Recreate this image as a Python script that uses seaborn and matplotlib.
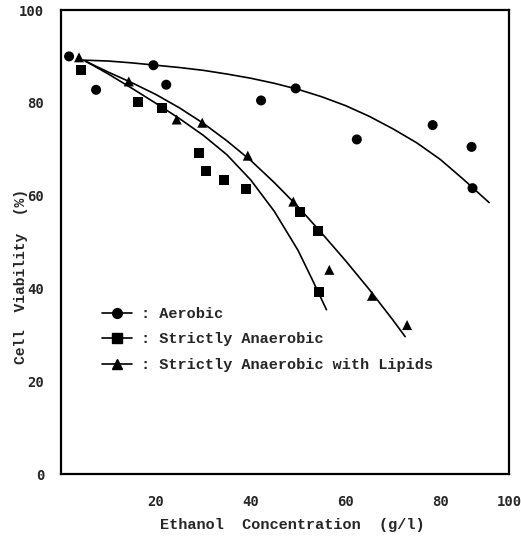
import numpy as np
import pandas as pd
import matplotlib
matplotlib.use("Agg")
import matplotlib.pyplot as plt
from matplotlib.lines import Line2D
import seaborn as sns

aerobic_x = [1.7, 7.4, 19.5, 22.2, 42.2, 49.5, 62.4, 78.4, 86.6, 86.8]
aerobic_y = [90.0, 82.8, 88.1, 83.9, 80.5, 83.1, 72.1, 75.2, 70.5, 61.6]
anaerobic_x = [4.2, 16.2, 21.4, 29.2, 30.6, 34.3, 39.0, 50.4, 54.3, 54.5]
anaerobic_y = [87.0, 80.1, 78.9, 69.2, 65.4, 63.4, 61.5, 56.4, 52.3, 39.3]
lipids_x = [3.8, 14.3, 24.4, 29.8, 39.4, 49.0, 56.6, 65.6, 73.0]
lipids_y = [89.8, 84.6, 76.4, 75.7, 68.6, 58.7, 44.0, 38.4, 32.1]

# fitted curves
aerobic_fit_x = [4.6, 10, 15, 20, 25, 30, 35, 40, 45, 50, 55, 60, 65, 70, 75, 80, 85, 90.3]
aerobic_fit_y = [89.2, 89.0, 88.6, 88.1, 87.6, 87.0, 86.2, 85.3, 84.2, 82.9, 81.3, 79.4,
                 77.1, 74.4, 71.4, 67.8, 63.4, 58.5]
anaerobic_fit_x = [5.1, 10, 15, 20, 25, 30, 35, 40, 45, 50, 53, 56]
anaerobic_fit_y = [89.0, 86.2, 83.1, 79.9, 76.6, 73.0, 68.8, 63.4, 56.6, 48.2, 41.9, 35.4]
lipids_fit_x = [5.1, 10, 15, 20, 25, 30, 35, 40, 45, 50, 55, 60, 65, 70, 72.6]
lipids_fit_y = [89.0, 86.6, 84.3, 81.8, 78.9, 75.6, 71.8, 67.6, 62.8, 57.6, 51.9, 46.0,
                39.8, 33.2, 29.6]

labels = [': Aerobic', ': Strictly Anaerobic', ': Strictly Anaerobic with Lipids']
markers = ['o', 's', '^']

pts = pd.concat([
    pd.DataFrame({'x': aerobic_x, 'y': aerobic_y, 'cond': labels[0]}),
    pd.DataFrame({'x': anaerobic_x, 'y': anaerobic_y, 'cond': labels[1]}),
    pd.DataFrame({'x': lipids_x, 'y': lipids_y, 'cond': labels[2]}),
])
fits = [(aerobic_fit_x, aerobic_fit_y), (anaerobic_fit_x, anaerobic_fit_y), (lipids_fit_x, lipids_fit_y)]

sns.set_style("white")
mono = ['Liberation Mono', 'DejaVu Sans Mono']
plt.rcParams['font.family'] = mono

fig = plt.figure(figsize=(5.21, 5.36), dpi=100)
ax = fig.add_axes([61 / 521, 1 - 474 / 536, 448 / 521, 464 / 536])

for fx, fy in fits:
    sns.lineplot(x=fx, y=fy, ax=ax, color='black', lw=1.2, sort=False, estimator=None)

sns.scatterplot(data=pts, x='x', y='y', style='cond', markers=dict(zip(labels, markers)),
                color='black', s=52, edgecolor='none', ax=ax, legend=False, zorder=3)

ax.set_xlim(0, 94.5)
ax.set_ylim(0, 100)

ax.set_xticks([20, 40, 60, 80, 94.5])
ax.set_xticklabels(['20', '40', '60', '80', '100'])
ax.set_xticks([10, 30, 50, 70, 90], minor=True)
ax.set_yticks([0, 20, 40, 60, 80, 100])
ax.set_yticks([10, 30, 50, 70, 90], minor=True)
ax.tick_params(axis='both', which='both', direction='in', length=5, width=1.2, color='black')
ax.tick_params(axis='x', which='major', pad=15, labelsize=10)
ax.tick_params(axis='y', which='major', pad=12, labelsize=10)
for lab in ax.get_xticklabels() + ax.get_yticklabels():
    lab.set_fontweight('bold')
    lab.set_family('DejaVu Sans Mono')

for sp in ax.spines.values():
    sp.set_visible(True)
    sp.set_color('black')
    sp.set_linewidth(1.6)

ax.set_xlabel('Ethanol  Concentration  (g/l)', fontsize=11, fontweight='bold')
ax.set_ylabel('Cell  Viability  (%)', fontsize=10.5, fontweight='bold')
ax.xaxis.set_label_coords(0.516, -0.095)
ax.yaxis.set_label_coords(-0.074, 0.425)

handles = [Line2D([0], [0], color='black', lw=1.2, marker=m, markersize=7) for m in markers]
leg = ax.legend(handles, labels, loc='center left', bbox_to_anchor=(0.06, 0.29),
                frameon=False, handlelength=2.0, handletextpad=0.6, labelspacing=0.75,
                prop={'family': mono, 'weight': 'bold', 'size': 11})

fig.savefig('out.png', dpi=100)
